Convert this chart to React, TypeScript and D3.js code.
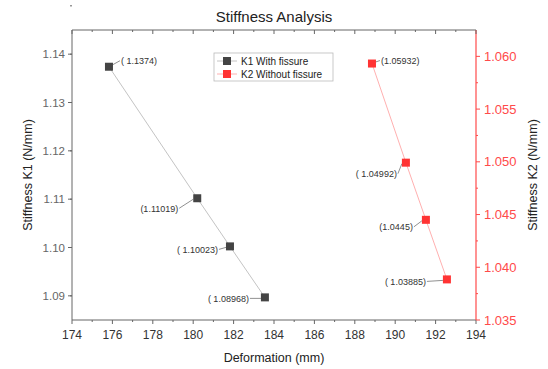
import * as d3 from "d3";

const deformK1 = [175.83, 180.2, 181.82, 183.55];
const stiffK1 = [1.1374, 1.11019, 1.10023, 1.08968];
const labelsK1 = ["( 1.1374)", "(1.11019)", "( 1.10023)", "( 1.08968)"];

const deformK2 = [188.85, 190.53, 191.52, 192.56];
const stiffK2 = [1.05932, 1.04992, 1.0445, 1.03885];
const labelsK2 = ["(1.05932)", "( 1.04992)", "(1.0445)", "( 1.03885)"];

const xTicks = d3.range(174, 195, 2);
const yLeftTicks = [1.09, 1.1, 1.11, 1.12, 1.13, 1.14];
const yRightTicks = [1.035, 1.04, 1.045, 1.05, 1.055, 1.06];

// label offsets relative to point: [dx, dy, anchor]
const offK1: [number, number, string][] = [
  [12, -4, "start"],
  [-19, 12, "end"],
  [-12, 5, "end"],
  [-16, 3, "end"],
];
const offK2: [number, number, string][] = [
  [9, -1, "start"],
  [-9, 13, "end"],
  [-13, 9, "end"],
  [-21, 4, "end"],
];

const W = 548;
const H = 369;
const m = { left: 72, right: 476, top: 30, bottom: 320 };
const font = "Arial, 'Liberation Sans', sans-serif";
const red = "#ff4a4a";

export default function App() {
  const x = d3.scaleLinear().domain([174, 194]).range([m.left, m.right]);
  const yL = d3.scaleLinear().domain([1.085, 1.145]).range([m.bottom, m.top]);
  const yR = d3.scaleLinear().domain([1.035, 1.0625]).range([m.bottom, m.top]);

  const lineK1 = d3
    .line<number>()
    .x((_, i) => x(deformK1[i]))
    .y((d) => yL(d));
  const lineK2 = d3
    .line<number>()
    .x((_, i) => x(deformK2[i]))
    .y((d) => yR(d));

  const xMinor = d3.range(175, 194, 2);
  const yLMinor = d3.range(1.085, 1.145, 0.01).map((v) => +v.toFixed(3));
  const yRMinor = d3.range(1.0375, 1.0625, 0.005).map((v) => +v.toFixed(4));

  const axisGray = "#666";

  return (
    <svg width={W} height={H} style={{ position: "absolute", left: 0, top: 0, background: "#fff" }}>
      <text x={274} y={22} textAnchor="middle" fontFamily={font} fontSize={15} fill="#222">
        Stiffness Analysis
      </text>

      {/* frame */}
      <line x1={m.left} x2={m.right} y1={m.top} y2={m.top} stroke={axisGray} strokeWidth={1} />
      <line x1={m.left} x2={m.right} y1={m.bottom} y2={m.bottom} stroke={axisGray} strokeWidth={1} />
      <line x1={m.left} x2={m.left} y1={m.top} y2={m.bottom} stroke={axisGray} strokeWidth={1} />
      <line x1={m.right} x2={m.right} y1={m.top} y2={m.bottom} stroke={red} strokeWidth={1.2} />

      {/* x ticks */}
      {xTicks.map((t) => (
        <g key={"x" + t}>
          <line x1={x(t)} x2={x(t)} y1={m.bottom} y2={m.bottom + 4} stroke={axisGray} />
          <line x1={x(t)} x2={x(t)} y1={m.top} y2={m.top + 4} stroke={axisGray} />
          <text x={x(t)} y={m.bottom + 19} textAnchor="middle" fontFamily={font} fontSize={12} fill="#333">
            {t}
          </text>
        </g>
      ))}
      {xMinor.map((t) => (
        <g key={"xm" + t}>
          <line x1={x(t)} x2={x(t)} y1={m.bottom} y2={m.bottom + 2} stroke={axisGray} />
          <line x1={x(t)} x2={x(t)} y1={m.top} y2={m.top + 2} stroke={axisGray} />
        </g>
      ))}
      <text x={274} y={362} textAnchor="middle" fontFamily={font} fontSize={12.5} fill="#222">
        Deformation (mm)
      </text>

      {/* left axis */}
      {yLeftTicks.map((t) => (
        <g key={"yl" + t}>
          <line x1={m.left - 4} x2={m.left} y1={yL(t)} y2={yL(t)} stroke={axisGray} />
          <text x={m.left - 7} y={yL(t) + 4} textAnchor="end" fontFamily={font} fontSize={11.5} fill="#666">
            {t.toFixed(2)}
          </text>
        </g>
      ))}
      {yLMinor.map((t) => (
        <line key={"ylm" + t} x1={m.left - 2} x2={m.left} y1={yL(t + 0.005)} y2={yL(t + 0.005)} stroke={axisGray} />
      ))}
      <text
        transform={`translate(32,${(m.top + m.bottom) / 2}) rotate(-90)`}
        textAnchor="middle"
        fontFamily={font}
        fontSize={12.5}
        fill="#222"
      >
        Stiffness K1 (N/mm)
      </text>

      {/* right axis */}
      {yRightTicks.map((t) => (
        <g key={"yr" + t}>
          <line x1={m.right} x2={m.right + 4} y1={yR(t)} y2={yR(t)} stroke={red} />
          <text x={m.right + 8} y={yR(t) + 4.5} textAnchor="start" fontFamily={font} fontSize={13} fill={red}>
            {t.toFixed(3)}
          </text>
        </g>
      ))}
      {yRMinor.map((t) => (
        <line key={"yrm" + t} x1={m.right} x2={m.right + 2} y1={yR(t)} y2={yR(t)} stroke={red} />
      ))}
      <text
        transform={`translate(537,${(m.top + m.bottom) / 2}) rotate(-90)`}
        textAnchor="middle"
        fontFamily={font}
        fontSize={12.5}
        fill="#222"
      >
        Stiffness K2 (N/mm)
      </text>

      {/* series */}
      <path d={lineK1(stiffK1) ?? ""} fill="none" stroke="#c4c4c4" strokeWidth={1} />
      <path d={lineK2(stiffK2) ?? ""} fill="none" stroke="#ffb0b0" strokeWidth={1} />

      {stiffK1.map((v, i) => {
        const px = x(deformK1[i]);
        const py = yL(v);
        const [dx, dy, anchor] = offK1[i];
        const lx = px + dx;
        const ly = py + dy;
        return (
          <g key={"k1" + i}>
            <line x1={px + (dx > 0 ? 2 : -4)} y1={py + (dy > 0 ? 1 : -1)} x2={lx + (dx > 0 ? -1 : 1)} y2={ly - 2} stroke="#444" strokeWidth={0.6} />
            <rect x={px - 4} y={py - 4} width={8} height={8} fill="#444" />
            <text x={lx} y={ly + 1.5} textAnchor={anchor} fontFamily={font} fontSize={9} fill="#333">
              {labelsK1[i]}
            </text>
          </g>
        );
      })}
      {stiffK2.map((v, i) => {
        const px = x(deformK2[i]);
        const py = yR(v);
        const [dx, dy, anchor] = offK2[i];
        const lx = px + dx;
        const ly = py + dy;
        return (
          <g key={"k2" + i}>
            <line x1={px + (dx > 0 ? 2 : -4)} y1={py + (dy > 0 ? 1 : -1)} x2={lx + (dx > 0 ? -1 : 1)} y2={ly - 2} stroke="#444" strokeWidth={0.6} />
            <rect x={px - 4} y={py - 4} width={8} height={8} fill="#ff3333" />
            <text x={lx} y={ly + 1.5} textAnchor={anchor} fontFamily={font} fontSize={9} fill="#333">
              {labelsK2[i]}
            </text>
          </g>
        );
      })}

      {/* legend */}
      <rect x={214} y={53} width={119} height={28} fill="#fff" stroke="#bbb" strokeWidth={0.8} />
      <line x1={217} x2={237} y1={61} y2={61} stroke="#c4c4c4" />
      <rect x={223} y={57} width={8} height={8} fill="#444" />
      <text x={241} y={65} fontFamily={font} fontSize={10} fill="#222">
        K1 With fissure
      </text>
      <line x1={217} x2={237} y1={74} y2={74} stroke="#ffb0b0" />
      <rect x={223} y={70} width={8} height={8} fill="#ff3333" />
      <text x={241} y={78} fontFamily={font} fontSize={10} fill="#222">
        K2 Without fissure
      </text>
    </svg>
  );
}
